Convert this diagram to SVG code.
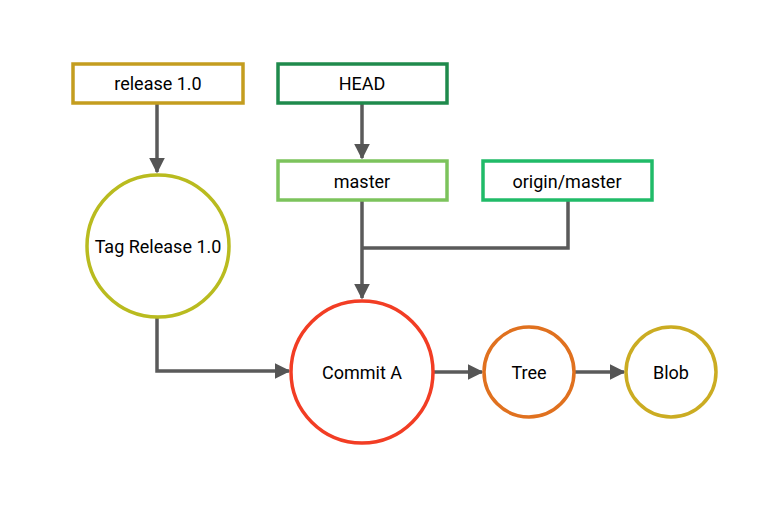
<svg xmlns="http://www.w3.org/2000/svg" width="782" height="507" viewBox="0 0 782 507">
<defs>
<marker id="arr" viewBox="0 0 10 10" refX="9" refY="5" markerWidth="4.5" markerHeight="4.5" markerUnits="strokeWidth" orient="auto">
<path d="M0,0 L10,5 L0,10 Z" fill="#555555"/>
</marker>
</defs>
<style>
.box{fill:#ffffff;stroke-width:3.5}
.circ{fill:#ffffff;stroke-width:3.5}
.lbl{font-family:Roboto,"Liberation Sans",sans-serif;font-size:18px;fill:#000000;text-anchor:middle;dominant-baseline:central}
.edge{fill:none;stroke:#5a5a5a;stroke-width:3.5}
</style>
<rect width="782" height="507" fill="#ffffff"/>
<g id="connectors">
<path class="edge" d="M157,104 L157,172" marker-end="url(#arr)"/>
<path class="edge" d="M362,104 L362,158" marker-end="url(#arr)"/>
<path class="edge" d="M362,201 L362,298" marker-end="url(#arr)"/>
<path class="edge" d="M568,201 L568,248 L363,248"/>
<path class="edge" d="M157,317 L157,371 L289,371" marker-end="url(#arr)"/>
<path class="edge" d="M434,372 L482,372" marker-end="url(#arr)"/>
<path class="edge" d="M575,372 L624,372" marker-end="url(#arr)"/>
</g>
<g id="release">
<rect class="box" x="73" y="64" width="170" height="39" stroke="#c49d1f"/>
<text class="lbl" x="158" y="83">release 1.0</text>
</g>
<g id="head">
<rect class="box" x="278" y="64" width="169" height="39" stroke="#1f8a4c"/>
<text class="lbl" x="362" y="83">HEAD</text>
</g>
<g id="master">
<rect class="box" x="278" y="161" width="169" height="39" stroke="#7cc35c"/>
<text class="lbl" x="362" y="181">master</text>
</g>
<g id="origin-master">
<rect class="box" x="483" y="161" width="169" height="39" stroke="#20bb68"/>
<text class="lbl" x="567" y="181">origin/master</text>
</g>
<g id="tag">
<circle class="circ" cx="158" cy="246" r="71" stroke="#b9bb1f"/>
<text class="lbl" x="158" y="246">Tag Release 1.0</text>
</g>
<g id="commit">
<circle class="circ" cx="362" cy="372" r="71" stroke="#f23d24"/>
<text class="lbl" x="362" y="372">Commit A</text>
</g>
<g id="tree">
<circle class="circ" cx="529" cy="372" r="45" stroke="#e0711f"/>
<text class="lbl" x="529" y="372">Tree</text>
</g>
<g id="blob">
<circle class="circ" cx="671" cy="372" r="45" stroke="#cbac22"/>
<text class="lbl" x="671" y="372">Blob</text>
</g>
</svg>
